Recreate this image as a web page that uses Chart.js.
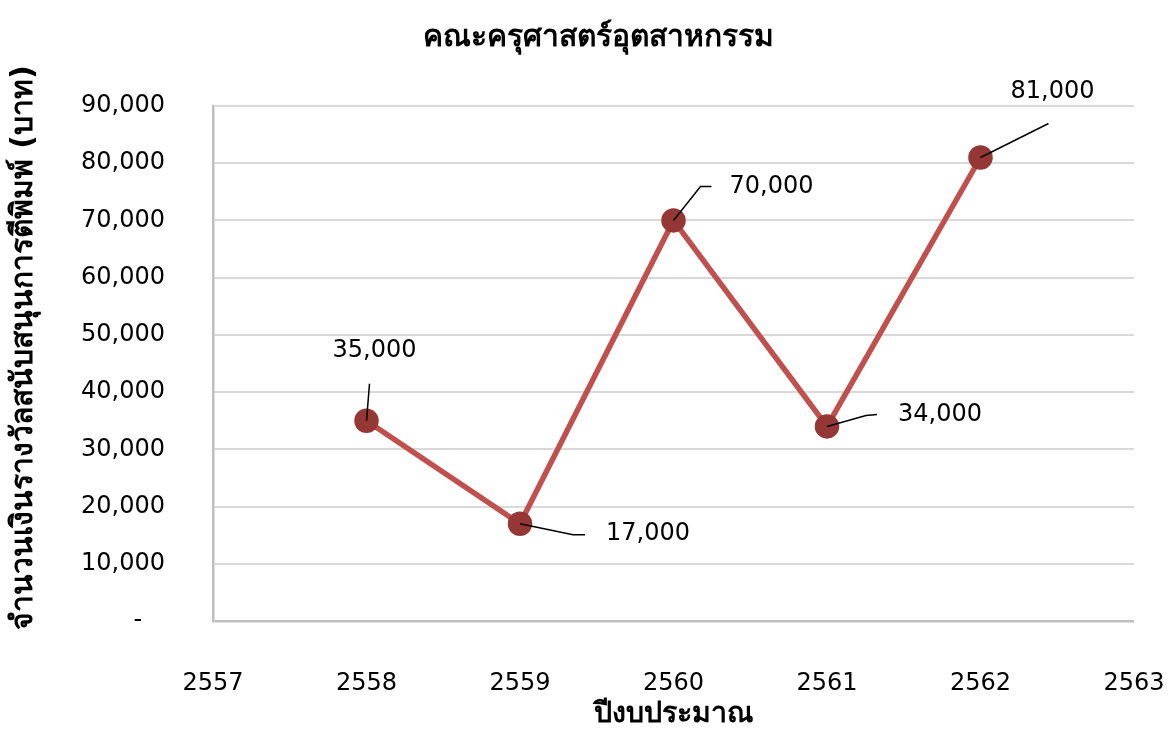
<!DOCTYPE html>
<html>
<head>
<meta charset="utf-8">
<script src="https://cdn.jsdelivr.net/npm/chart.js@4/dist/chart.umd.min.js"></script>
<style>
  html, body { margin: 0; padding: 0; background: #fff; }
  #wrap { width: 1173px; height: 729px; }
</style>
</head>
<body>
<div id="wrap"><canvas id="c" width="1173" height="729"></canvas></div>
<script>
// ---- data ----
const years = [2558, 2559, 2560, 2561, 2562];
const amounts = [35000, 17000, 70000, 34000, 81000];
const chartTitle = 'คณะครุศาสตร์อุตสาหกรรม';
const yTitle = 'จำนวนเงินรางวัลสนับสนุนการตีพิมพ์ (บาท)';
const xTitle = 'ปีงบประมาณ';
const xMin = 2557, xMax = 2563;
const yMin = 0, yMax = 90000, yStep = 10000;

// ---- label placement (pixel offsets from each point) ----
const labelStyle = [
  { dx: 8,   dy: -70, leader: [[0,0],[3,-37]] },
  { dx: 128, dy: 10,  leader: [[0,0],[53,11],[65,11]] },
  { dx: 98,  dy: -34, leader: [[0,0],[27,-34],[38,-34]] },
  { dx: 113, dy: -12, leader: [[0,0],[39,-11],[50,-12]] },
  { dx: 72,  dy: -66, leader: [[0,0],[68,-34]] }
];

const FONT = "'DejaVu Sans', 'Noto Sans', sans-serif";
const fmt = v => v.toLocaleString('en-US');

const labelPlugin = {
  id: 'leaderLabels',
  afterDatasetsDraw(chart) {
    const ctx = chart.ctx;
    const meta = chart.getDatasetMeta(0);
    ctx.save();
    meta.data.forEach((pt, i) => {
      const s = labelStyle[i];
      ctx.beginPath();
      s.leader.forEach((p, j) => {
        const x = pt.x + p[0], y = pt.y + p[1];
        if (j === 0) ctx.moveTo(x, y); else ctx.lineTo(x, y);
      });
      ctx.strokeStyle = '#000';
      ctx.lineWidth = 1.5;
      ctx.stroke();
      ctx.font = '24px ' + FONT;
      ctx.fillStyle = '#000';
      ctx.textAlign = 'center';
      ctx.textBaseline = 'middle';
      ctx.fillText(fmt(amounts[i]), pt.x + s.dx, pt.y + s.dy);
    });
    ctx.restore();
  }
};

new Chart(document.getElementById('c'), {
  type: 'line',
  data: {
    datasets: [{
      data: years.map((y, i) => ({ x: y, y: amounts[i] })),
      borderColor: '#C0504D',
      borderWidth: 5.5,
      pointBackgroundColor: '#953735',
      pointBorderColor: '#953735',
      pointRadius: 9.5,
      pointHoverRadius: 9.5,
      tension: 0
    }]
  },
  options: {
    responsive: false,
    animation: false,
    devicePixelRatio: 1,
    layout: { padding: { left: 0, right: 39, top: 0, bottom: 0 } },
    plugins: {
      legend: { display: false },
      tooltip: { enabled: false },
      title: {
        display: true,
        text: '      ' + chartTitle,
        color: '#000',
        font: { family: FONT, size: 30, weight: 'bold' },
        padding: { top: 20, bottom: 50 }
      }
    },
    scales: {
      x: {
        type: 'linear',
        min: xMin, max: xMax,
        afterFit(scale) { scale.height = 108; scale.paddingRight = 0; scale.paddingLeft = 0; },
        ticks: {
          stepSize: 1,
          color: '#000',
          font: { family: FONT, size: 24 },
          padding: 40,
          callback: v => String(v)
        },
        grid: { display: false },
        border: { display: false },
        title: {
          display: true, text: xTitle, color: '#000',
          font: { family: FONT, size: 28.5, weight: 'bold', lineHeight: 1 },
          padding: { top: 0, bottom: 0 }
        }
      },
      y: {
        min: yMin, max: yMax,
        afterFit(scale) { scale.width = 213; },
        ticks: {
          stepSize: yStep,
          color: '#000',
          font: { family: FONT, size: 24 },
          padding: 48,
          callback: v => v === 0 ? '-   ' : fmt(v)
        },
        grid: {
          color: c => (c.tick && c.tick.value === 0) ? '#BFBFBF' : '#D9D9D9',
          lineWidth: c => (c.tick && c.tick.value === 0) ? 2.5 : 2,
          drawTicks: false
        },
        border: { display: true, color: '#BFBFBF', width: 2.5 },
        title: {
          display: true, text: '   ' + yTitle, color: '#000',
          font: { family: FONT, size: 30, weight: 'bold', lineHeight: 1.2 },
          padding: { top: 6, bottom: 0 }
        }
      }
    }
  },
  plugins: [labelPlugin]
});
</script>
</body>
</html>
